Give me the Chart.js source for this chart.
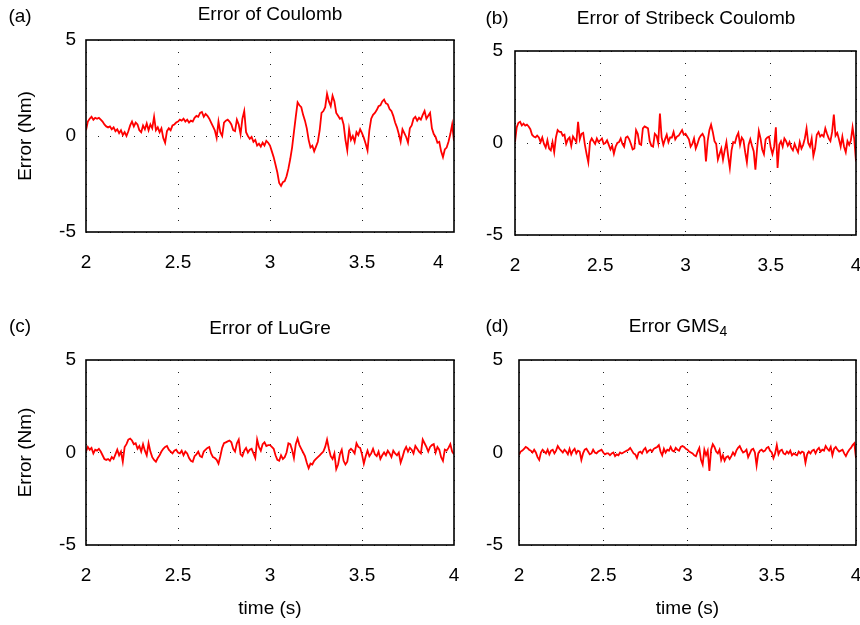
<!DOCTYPE html>
<html>
<head>
<meta charset="utf-8">
<script src="https://cdn.jsdelivr.net/npm/chart.js@4.4.1/dist/chart.umd.min.js"></script>
<style>
    body { margin: 0; background: #fff; }
    #wrap { position: relative; width: 860px; height: 625px; font-family: "Liberation Sans", Arial, sans-serif; color: #000; overflow: hidden; }
    #wrap canvas { position: absolute; }
    .lbl { position: absolute; font-size: 19px; transform: translate(-50%, -50%); white-space: nowrap; }
    .lbl sub { font-size: 14px; vertical-align: -4px; }
</style>
</head>
<body>
<div id="wrap">
    <canvas id="chartA" width="480" height="300" style="left:0;top:0"></canvas>
    <canvas id="chartB" width="400" height="300" style="left:460px;top:0"></canvas>
    <canvas id="chartC" width="480" height="325" style="left:0;top:300px"></canvas>
    <canvas id="chartD" width="400" height="325" style="left:460px;top:300px"></canvas>

    <div class="lbl" style="left:20px;top:16px">(a)</div>
    <div class="lbl" style="left:270px;top:14px">Error of Coulomb</div>
    <div class="lbl" style="left:497px;top:18px">(b)</div>
    <div class="lbl" style="left:686px;top:18px">Error of Stribeck Coulomb</div>
    <div class="lbl" style="left:20px;top:326px">(c)</div>
    <div class="lbl" style="left:270px;top:328px">Error of LuGre</div>
    <div class="lbl" style="left:497px;top:326px">(d)</div>
    <div class="lbl" style="left:678px;top:327px">Error GMS<sub>4</sub></div>
</div>

<script>
/* =========================
   Data (time 2..4 s, 0.01 s steps)
========================= */
const t0 = 2;
const dt = 0.01;

const xTicks = [2, 2.5, 3, 3.5, 4];
const yTicks = [-5, 0, 5];

const coulomb = [
    0.3, 0.75, 0.9, 1.0, 0.85, 0.95, 0.9, 0.95, 0.85, 0.75,
    0.6, 0.5, 0.45, 0.5, 0.35, 0.45, 0.25, 0.35, 0.15, 0.3,
    0.05, 0.2, 0.0, 0.25, 0.55, 0.75, 0.5, 0.7, 0.6, 0.3,
    0.2, 0.55, 0.35, 0.65, 0.3, 0.6, 0.4, 1.0, 0.3, 0.45,
    0.2, 0.4, -0.1, -0.35, 0.25, 0.4, 0.3, 0.55, 0.6, 0.7,
    0.75, 0.85, 0.8, 0.9, 0.75, 0.85, 0.7, 0.8, 0.75, 0.95,
    1.05, 1.0, 1.2, 1.25, 1.0, 1.15, 1.05, 0.9, 0.7, 0.5,
    0.3, -0.1, 0.75, 0.2, 0.0, 0.7, 0.8, 0.85, 0.75, 0.6,
    0.3, 0.25, 0.85, 0.6, 0.1, 0.9, 1.3, 0.2, 0.0, -0.15,
    -0.05, -0.3, -0.2, -0.5, -0.4, -0.55, -0.35, -0.5, -0.25, -0.35,
    -0.5, -0.8, -1.1, -1.5, -1.9, -2.45, -2.6, -2.4, -2.35, -2.1,
    -1.7, -1.2, -0.6, 0.2, 1.0, 1.75, 1.6, 1.5, 1.1, 0.8,
    0.4, -0.2, -0.6, -0.5, -0.8, -0.55, -0.3, 0.3, 1.2, 1.3,
    1.5, 2.2, 1.8, 1.55, 2.1, 1.8, 1.2, 1.05, 0.9, 0.95,
    0.6, -0.2, -0.75, 0.35, -0.2, 0.0, -0.3, 0.2, 0.05, 0.35,
    0.15, -0.1, -0.4, -0.75, 0.3, 0.9, 1.1, 1.2, 1.35, 1.55,
    1.6, 1.8, 1.9, 1.7, 1.65, 1.4, 1.3, 1.05, 0.7, 0.45,
    0.1, -0.3, 0.35, 0.15, -0.05, -0.35, 0.4, 0.55, 0.9, 1.0,
    0.8, 0.95, 0.85, 1.1, 1.3, 0.9, 1.05, 1.2, 0.4, 0.1,
    -0.05, -0.35, -0.3, -0.8, -1.1, -0.7, -0.6, -0.3, 0.1, 0.6,
    -0.25
];

const stribeck = [
    0.05, 0.85, 1.1, 1.15, 0.95, 1.05, 0.95, 1.0, 0.9, 0.75,
    0.45, 0.35, 0.3, 0.4, 0.3, 0.05, 0.3, -0.05, -0.25, 0.15,
    -0.3, -0.4, 0.05, -0.5, 0.3, 0.7, 0.6, 0.6, 0.4, 0.45,
    -0.05, 0.2, 0.3, -0.15, 0.35, 0.2, 0.05, 1.15, 0.2, 0.5,
    0.55, -0.1, -0.6, -1.05, 0.05, 0.25, 0.1, -0.05, 0.25, 0.05,
    0.15, 0.25, -0.05, 0.0, 0.15, -0.1, -0.35, -0.15, -0.58, -0.2,
    0.0, 0.05, 0.25, -0.05, -0.2, 0.3, 0.35, 0.2, -0.05, -0.35,
    -0.3, 0.7, 0.5, -0.05, -0.1, 0.8, 0.9, 0.85, 0.8, 0.1,
    -0.15, -0.2, 0.5, 0.4, 0.0, 1.6, 0.3, -0.1, 0.2, 0.45,
    0.05, 0.3, 0.3, 0.6, 0.2, 0.35, 0.4, 0.55, 0.7, 0.45,
    0.5, 0.35, 0.2, -0.2, -0.05, 0.25, -0.3, -0.05, 0.25, 0.4,
    0.5, 0.3, -1.0, 0.1, 0.7, 1.0, 0.6, 0.1, -0.05, -0.9,
    -0.6, -0.3, -0.9, -0.4, 0.05, -0.7, -1.35, -0.4, 0.05, 0.0,
    0.35, 0.55, -0.1, 0.3, 0.15, -0.5, -1.05, -0.1, 0.2, -0.15,
    -0.45, -1.45, -0.3, 0.65, 0.25, -0.35, -0.6, 0.2, 0.3, 0.35,
    -0.25, -0.6, -0.2, 0.85, -1.35, -0.1, 0.1, -0.2, 0.25, 0.1,
    -0.15, 0.05, -0.25, -0.4, -0.05, -0.3, -0.5, 0.05, -0.3, -0.1,
    0.25, 0.8, 0.0, -0.2, 0.25, -0.7, -0.3, 0.45, 0.6, 0.35,
    0.45, 0.35, 0.8, 0.5, 0.25, 0.1, 0.6, 1.55, 0.4, 0.55,
    0.2, -0.2, 0.35, -0.2, -0.5, 0.1, -0.1, 0.15, 0.85, 0.2,
    -1.0
];

const lugre = [
    0.05, 0.3, 0.15, 0.25, -0.05, 0.15, 0.1, 0.2, 0.05, -0.15,
    -0.35, -0.4, -0.35, -0.45, -0.25, -0.35, -0.1, 0.15, -0.15, 0.05,
    -0.5, 0.3, 0.45, 0.7, 0.75, 0.65, 0.45, 0.5, 0.2, 0.35,
    0.05, 0.45, 0.1, -0.15, 0.5, 0.05, -0.25, -0.4, -0.5, -0.3,
    -0.15, 0.05, 0.2, 0.3, 0.35, 0.15, 0.05, -0.05, 0.1, 0.15,
    0.0, -0.05, 0.1, -0.15, 0.05, -0.05, -0.3, -0.45, -0.5, -0.2,
    -0.1, 0.05, -0.2, -0.25, 0.05, 0.15, 0.25, 0.3, -0.05, -0.25,
    -0.3, -0.4, -0.6, -0.2, 0.25, 0.5, 0.55, 0.6, 0.65, 0.55,
    0.2, 0.05, 0.5, 0.7, -0.1, -0.2, 0.1, 0.25, 0.0, 0.15,
    0.2, -0.05, -0.3, 0.7, 0.3, 0.1, 0.45, 0.55, 0.35, 0.4,
    0.4, 0.3, 0.2, -0.15, -0.4, -0.45, -0.15, -0.35, -0.25, 0.0,
    0.5, 0.45, 0.15, -0.3, 0.45, 0.75, 0.4, 0.2, 0.0, -0.2,
    -0.55, -0.85, -0.6, -0.65, -0.45, -0.35, -0.25, -0.15, -0.05, 0.05,
    0.3, 0.7, 0.2, -0.2, -0.35, -0.05, -0.9, -0.65, -0.1, 0.15,
    -0.45, -0.65, -0.5, 0.1, 0.2, 0.1, -0.05, 0.5, 0.3, 0.25,
    -0.1, -0.6, -0.2, 0.1, -0.2, -0.05, 0.2, -0.1, -0.2, 0.05,
    -0.35, -0.15, 0.0, -0.15, 0.1, -0.05, -0.25, 0.1, -0.05, -0.15,
    0.0, -0.55, -0.25, 0.1, 0.3, 0.05, 0.25, 0.15, -0.05, 0.35,
    0.2, 0.05, -0.05, 0.7, 0.5, 0.3, 0.05, 0.3, 0.4, 0.45,
    0.0, 0.3, 0.15, -0.25, -0.45, 0.15, 0.1, 0.25, 0.45, 0.05,
    -0.1
];

const gms4 = [
    -0.12, 0.05, 0.1, 0.2, 0.3, 0.25, 0.15, 0.1, 0.0, 0.15,
    0.0, -0.25, -0.4, 0.0, 0.15, 0.05, -0.05, 0.15, -0.1, 0.1,
    0.15, -0.05, 0.1, 0.35, 0.2, 0.1, 0.0, 0.15, 0.05, -0.1,
    0.2, -0.1, 0.1, 0.2, -0.05, 0.1, 0.05, -0.4, -0.05, 0.15,
    0.2, 0.05, -0.1, -0.05, 0.15, 0.0, -0.05, 0.05, 0.1, 0.15,
    0.0, -0.1, -0.05, -0.05, -0.15, -0.05, 0.0, -0.2, -0.1, -0.15,
    0.0, -0.05, 0.0, 0.05, 0.1, 0.15, 0.25, 0.1, -0.05, -0.1,
    -0.3, 0.0, 0.05, -0.05, 0.15, 0.25, 0.0, 0.1, 0.15, 0.05,
    0.2, 0.25, 0.3, 0.4, 0.05, -0.15, 0.2, 0.0, 0.15, 0.1,
    0.3, 0.1, 0.05, 0.25, 0.15, 0.1, 0.3, 0.35, 0.3, 0.2,
    0.15, 0.05, 0.0, -0.05, -0.15, -0.2, 0.05, 0.25, -0.4, -0.65,
    0.15, -0.15, 0.1, -1.0, 0.15, 0.45, 0.3, 0.05, -0.05, 0.15,
    -0.4, -0.15, -0.45, -0.25, -0.2, -0.35, -0.2, 0.0, -0.15, 0.1,
    0.25, 0.35, 0.15, 0.0, 0.05, 0.15, -0.25, -0.05, 0.15, 0.2,
    0.0, -0.7, -0.05, 0.1, 0.15, 0.05, 0.1, 0.25, 0.3, 0.1,
    0.0, -0.3, -0.05, 0.4, -0.1, 0.1, 0.15, -0.05, -0.1, 0.05,
    -0.05, 0.1, -0.15, -0.05, -0.1, -0.15, 0.05, -0.05, 0.05, 0.0,
    -0.55, -0.1, 0.05, -0.05, 0.1, 0.15, -0.05, 0.15, 0.25, 0.05,
    0.15, 0.1, 0.35, 0.2, 0.1, 0.3, -0.15, 0.2, 0.3, 0.15,
    0.05, 0.1, 0.15, -0.05, -0.2, 0.0, 0.15, 0.25, 0.4, 0.5,
    -0.3
];


/* =========================
   Panels (plot box in canvas px)
========================= */
const panels = [
    { id: "chartA", values: coulomb,  left: 86, top: 40, right: 454, bottom: 232, yPad: 10, yTitle: true,  xTitle: false, lastGap: 6 },
    { id: "chartB", values: stribeck, left: 55, top: 51, right: 396, bottom: 235, yPad: 12, yTitle: false, xTitle: false, lastGap: 0 },
    { id: "chartC", values: lugre,    left: 86, top: 60, right: 454, bottom: 245, yPad: 10, yTitle: true,  xTitle: true,  lastGap: 0 },
    { id: "chartD", values: gms4,     left: 59, top: 60, right: 396, bottom: 245, yPad: 16, yTitle: false, xTitle: true,  lastGap: 0 }
];

const font = { family: "'Liberation Sans', Arial, sans-serif", size: 19 };

// solid frame round the plot area
const boxPlugin = {
    id: "box",
    afterDraw(chart) {
        const { ctx, chartArea: a } = chart;
        ctx.save();
        ctx.strokeStyle = "#000";
        ctx.lineWidth = 1.6;
        ctx.strokeRect(a.left, a.top, a.right - a.left, a.bottom - a.top);
        ctx.restore();
    }
};

function makeChart(p) {
    const cv = document.getElementById(p.id);
    const w = cv.width;
    const h = cv.height;

    new Chart(cv, {
        type: "line",
        data: {
            datasets: [{
                data: p.values.map((v, i) => ({ x: t0 + i * dt, y: v })),
                borderColor: "#ff0000",
                borderWidth: 1.8,
                pointRadius: 0,
                tension: 0
            }]
        },
        options: {
            responsive: false,
            animation: false,
            events: [],
            layout: { padding: { left: 0, top: p.top, right: w - p.right, bottom: 0 } },
            plugins: { legend: { display: false }, tooltip: { enabled: false } },
            scales: {
                x: {
                    type: "linear",
                    min: 2,
                    max: 4,
                    afterBuildTicks: s => { s.ticks = xTicks.map(v => ({ value: v })); },
                    afterFit: s => { s.height = h - p.bottom; s.paddingLeft = 0; s.paddingRight = 0; },
                    grid: { color: "#222", lineWidth: 1, drawTicks: false },
                    border: { display: false, dash: [1, 11] },
                    ticks: {
                        color: "#000", font: font, padding: 19, maxRotation: 0, autoSkip: false,
                        // panel (a) prints its last label a little left of the tick
                        callback: v => v === 4 ? "4" + "\u00a0".repeat(p.lastGap) : String(v)
                    },
                    title: { display: p.xTitle, text: "time (s)", color: "#000", font: font, padding: { top: 0, bottom: 5 } }
                },
                y: {
                    min: -5,
                    max: 5,
                    afterBuildTicks: s => { s.ticks = yTicks.map(v => ({ value: v })); },
                    afterFit: s => { s.width = p.left; },
                    grid: { color: "#222", lineWidth: 1, drawTicks: false },
                    border: { display: false, dash: [1, 11] },
                    ticks: { color: "#000", font: font, padding: p.yPad, callback: v => String(v) },
                    title: { display: p.yTitle, text: "Error (Nm)", color: "#000", font: font, padding: { top: 14, bottom: 0 } }
                }
            }
        },
        plugins: [boxPlugin]
    });
}

panels.forEach(makeChart);
</script>
</body>
</html>
